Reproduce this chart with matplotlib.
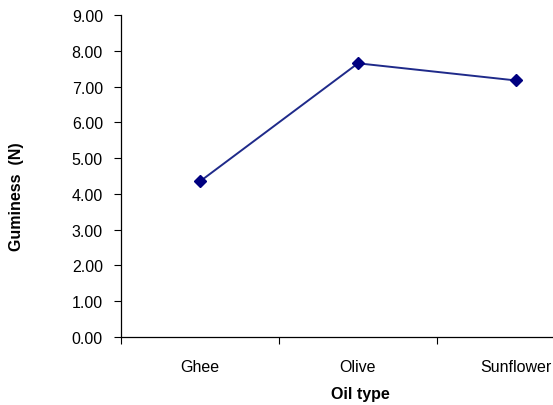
import matplotlib
matplotlib.use("Agg")
import matplotlib.pyplot as plt

oil_types = ["Ghee", "Olive", "Sunflower"]
guminess = [4.35, 7.65, 7.17]
y_ticks = [0, 1, 2, 3, 4, 5, 6, 7, 8, 9]

W, H = 553, 406
fig = plt.figure(figsize=(W / 100, H / 100), dpi=100)
plt.rcParams["font.family"] = ["Liberation Sans", "DejaVu Sans"]

# axes frame in pixel units: left 121, top 16, bottom 338, category width 158
left, top, bottom, cat_w = 121, 16, 338, 158
ax = fig.add_axes([left / W, 1 - bottom / H, 3 * cat_w / W, (bottom - top) / H])

x = [0.5 + i for i in range(len(oil_types))]
ax.plot(x, guminess, color="#1f2a8a", lw=1.4, marker="D", ms=6,
        mfc="#000080", mec="#000080", zorder=3, clip_on=False)

ax.set_xlim(0, 3)
ax.set_ylim(0, 9)
ax.set_yticks(y_ticks)
ax.set_yticklabels([f"{v:.2f}" for v in y_ticks])
ax.set_xticks([0, 1, 2, 3])
ax.set_xticklabels([])
ax.set_xticks(x, minor=True)
ax.set_xticklabels(oil_types, minor=True)
ax.tick_params(axis="x", which="minor", length=0, pad=15.5, labelsize=11.5)
ax.tick_params(axis="x", which="major", length=5, width=0.8, direction="out")
ax.tick_params(axis="y", length=5, width=0.8, direction="out", pad=8, labelsize=11.5)

for s in ["top", "right"]:
    ax.spines[s].set_visible(False)
for s in ["left", "bottom"]:
    ax.spines[s].set_linewidth(0.9)

fig.text(360 / W, 1 - 395 / H, "Oil type", ha="center", va="center",
         fontsize=11.5, fontweight="bold")
fig.text(17 / W, 1 - 197 / H, "Guminess  (N)", ha="center", va="center",
         rotation=90, fontsize=11.5, fontweight="bold")

fig.savefig("out.png", dpi=100)
